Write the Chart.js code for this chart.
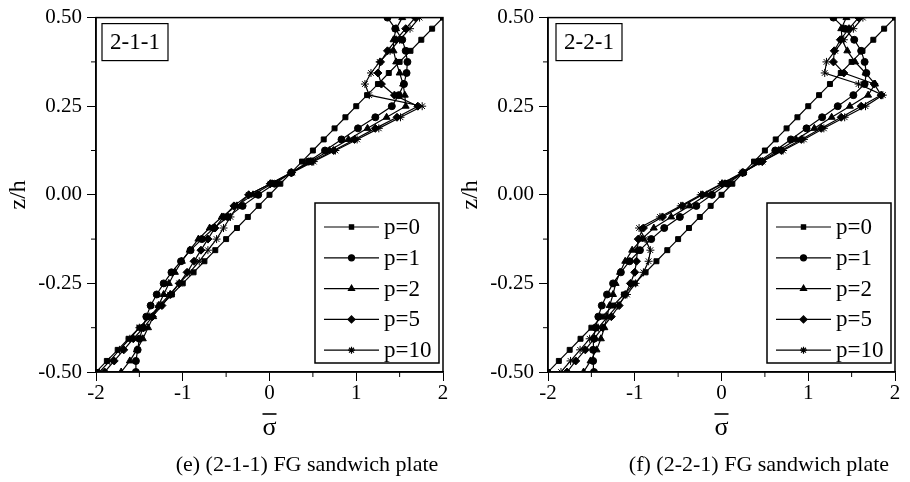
<!DOCTYPE html>
<html>
<head>
<meta charset="utf-8">
<script src="https://cdn.jsdelivr.net/npm/chart.js@4.4.0/dist/chart.umd.min.js"></script>
<style>
  body { margin: 0; background: #fff; }
  #wrap { position: relative; width: 910px; height: 482px; overflow: hidden; }
  canvas { position: absolute; top: 0; }
</style>
</head>
<body>
<div id="wrap">
  <canvas id="plate211" width="455" height="482" style="left:0"></canvas>
  <canvas id="plate221" width="455" height="482" style="left:455px"></canvas>
</div>
<script>
// z/h sample positions through the thickness
const zValues = [-0.5, -0.46875, -0.4375, -0.40625, -0.375, -0.34375, -0.3125, -0.28125, -0.25,
  -0.21875, -0.1875, -0.15625, -0.125, -0.09375, -0.0625, -0.03125, 0,
  0.03125, 0.0625, 0.09375, 0.125, 0.15625, 0.1875, 0.21875, 0.25,
  0.28125, 0.3125, 0.34375, 0.375, 0.40625, 0.4375, 0.46875, 0.5];

const seriesLabels = ['p=0', 'p=1', 'p=2', 'p=5', 'p=10'];
const xTicks = [-2, -1, 0, 1, 2];
const yTicks = [-0.5, -0.25, 0, 0.25, 0.5];
const xMinorTicks = [-1.5, -0.5, 0.5, 1.5];
const yMinorTicks = [-0.375, -0.125, 0.125, 0.375];

// sigma values, p=0 is the same in both plates
const sigmaP0 = [-2, -1.875, -1.75, -1.625, -1.5, -1.375, -1.25, -1.125, -1, -0.875, -0.75, -0.625, -0.5,
  -0.375, -0.25, -0.125, 0, 0.125, 0.25, 0.375, 0.5, 0.625, 0.75, 0.875, 1, 1.125, 1.25, 1.375, 1.5,
  1.625, 1.75, 1.875, 2];

// (2-1-1)
const plate211P1 = [-1.54, -1.54, -1.52, -1.50, -1.46, -1.42, -1.37, -1.30, -1.22, -1.13, -1.02, -0.91, -0.78,
  -0.64, -0.48, -0.31, -0.13, 0.06, 0.25, 0.45, 0.64, 0.83, 1.02, 1.22, 1.41, 1.49, 1.55, 1.58, 1.59, 1.57,
  1.53, 1.45, 1.36];
const plate211P2 = [-1.71, -1.61, -1.53, -1.46, -1.40, -1.34, -1.28, -1.22, -1.16, -1.09, -1.01, -0.92, -0.82,
  -0.69, -0.55, -0.38, -0.19, 0.03, 0.25, 0.47, 0.69, 0.91, 1.13, 1.35, 1.57, 1.56, 1.54, 1.50, 1.46, 1.43,
  1.43, 1.46, 1.53];
const plate211P5 = [-1.90, -1.79, -1.68, -1.57, -1.45, -1.35, -1.24, -1.14, -1.04, -0.95, -0.87, -0.79, -0.71,
  -0.63, -0.53, -0.41, -0.24, 0.01, 0.25, 0.49, 0.74, 0.98, 1.22, 1.47, 1.71, 1.44, 1.29, 1.25, 1.28, 1.36,
  1.46, 1.57, 1.68];
const plate211P10 = [-1.96, -1.84, -1.73, -1.61, -1.50, -1.38, -1.27, -1.15, -1.04, -0.92, -0.81, -0.71, -0.61,
  -0.53, -0.45, -0.37, -0.24, 0.01, 0.26, 0.51, 0.76, 1.01, 1.26, 1.51, 1.76, 1.15, 1.10, 1.17, 1.27, 1.39,
  1.50, 1.62, 1.73];

// (2-2-1)
const plate221P1 = [-1.47, -1.48, -1.48, -1.47, -1.45, -1.42, -1.38, -1.32, -1.25, -1.16, -1.06, -0.94, -0.81,
  -0.66, -0.48, -0.29, -0.11, 0.07, 0.25, 0.43, 0.62, 0.80, 0.98, 1.16, 1.34, 1.52, 1.65, 1.67, 1.65, 1.61,
  1.53, 1.42, 1.29];
const plate221P2 = [-1.59, -1.51, -1.44, -1.39, -1.35, -1.32, -1.29, -1.25, -1.22, -1.17, -1.11, -1.03, -0.92,
  -0.78, -0.58, -0.37, -0.17, 0.04, 0.25, 0.45, 0.66, 0.86, 1.07, 1.27, 1.48, 1.69, 1.77, 1.66, 1.54, 1.45,
  1.39, 1.38, 1.44];
const plate221P5 = [-1.78, -1.68, -1.57, -1.47, -1.37, -1.27, -1.18, -1.11, -1.05, -1.00, -0.98, -0.97, -0.96,
  -0.90, -0.68, -0.45, -0.22, 0.01, 0.24, 0.47, 0.69, 0.92, 1.15, 1.38, 1.61, 1.84, 1.76, 1.41, 1.29, 1.30,
  1.37, 1.47, 1.58];
const plate221P10 = [-1.85, -1.74, -1.63, -1.52, -1.42, -1.31, -1.20, -1.09, -0.99, -0.90, -0.84, -0.82, -0.88,
  -0.95, -0.71, -0.47, -0.24, 0.00, 0.24, 0.47, 0.71, 0.95, 1.18, 1.42, 1.66, 1.86, 1.58, 1.19, 1.21, 1.31,
  1.41, 1.52, 1.63];

const SERIF = '"Liberation Serif", "Times New Roman", serif';
const pointStyles = ['rect', 'circle', 'triangle', 'rectRot', 'star'];
const pointRadii = [3.5, 3.5, 4, 4, 4];

function buildDatasets(series) {
    return series.map((values, i) => ({
        label: seriesLabels[i],
        data: values.map((s, k) => ({ x: s, y: zValues[k] })),
        showLine: true,
        borderColor: '#000',
        backgroundColor: '#000',
        borderWidth: 1.2,
        pointStyle: pointStyles[i],
        pointRadius: pointRadii[i],
        pointBorderWidth: 1,
        pointBackgroundColor: '#000',
        pointBorderColor: '#000'
    }));
}

function drawMarker(ctx, style, r, x, y) {
    if (Chart.helpers && Chart.helpers.drawPoint) {
        Chart.helpers.drawPoint(ctx, { pointStyle: style, radius: r, borderWidth: 1, rotation: 0 }, x, y);
    } else {
        ctx.beginPath(); ctx.arc(x, y, r, 0, Math.PI * 2); ctx.fill();
    }
}

// frame, minor ticks, tag box, legend, overline and caption
const plateDecor = {
    id: 'plateDecor',
    afterDatasetsDraw(chart, args, opts) {
        const { ctx, chartArea: a, scales } = chart;
        ctx.save();
        ctx.strokeStyle = '#000';
        ctx.fillStyle = '#000';

        ctx.lineWidth = 1.5;
        ctx.strokeRect(a.left, a.top, a.right - a.left, a.bottom - a.top);

        ctx.lineWidth = 1;
        ctx.beginPath();
        yMinorTicks.forEach(v => {
            const y = scales.y.getPixelForValue(v);
            ctx.moveTo(a.left - 5, y); ctx.lineTo(a.left, y);
        });
        xMinorTicks.forEach(v => {
            const x = scales.x.getPixelForValue(v);
            ctx.moveTo(x, a.bottom); ctx.lineTo(x, a.bottom + 5);
        });
        ctx.stroke();

        // tag box
        const tx = a.left + opts.tagDx, ty = a.top + 6;
        ctx.lineWidth = 1.2;
        ctx.fillStyle = '#fff';
        ctx.fillRect(tx, ty, 66, 37);
        ctx.strokeRect(tx, ty, 66, 37);
        ctx.fillStyle = '#000';
        ctx.font = '23px ' + SERIF;
        ctx.textAlign = 'center';
        ctx.textBaseline = 'middle';
        ctx.fillText(opts.tag, tx + 33, ty + 19);

        // legend
        const bw = 124, bh = 160;
        const bx = a.right - 4 - bw, by = a.bottom - 9 - bh;
        ctx.fillStyle = '#fff';
        ctx.fillRect(bx, by, bw, bh);
        ctx.lineWidth = 1.5;
        ctx.strokeRect(bx, by, bw, bh);
        ctx.fillStyle = '#000';
        ctx.textAlign = 'left';
        ctx.font = '23px ' + SERIF;
        chart.data.datasets.forEach((ds, i) => {
            const y = by + 24 + i * 30.8;
            ctx.lineWidth = 1.2;
            ctx.beginPath();
            ctx.moveTo(bx + 9, y); ctx.lineTo(bx + 64, y);
            ctx.stroke();
            drawMarker(ctx, ds.pointStyle, ds.pointRadius - 0.5, bx + 36.5, y);
            ctx.fillText(ds.label, bx + 69, y + 1);
        });

        // bar over sigma
        const cx = (a.left + a.right) / 2;
        ctx.lineWidth = 1.6;
        ctx.beginPath();
        ctx.moveTo(cx - 7, a.bottom + 42); ctx.lineTo(cx + 7, a.bottom + 42);
        ctx.stroke();

        ctx.font = '22px ' + SERIF;
        ctx.textAlign = 'center';
        ctx.textBaseline = 'alphabetic';
        ctx.fillText(opts.caption, a.left + 211, a.bottom + 99);
        ctx.restore();
    }
};

function makeChart(id, series, o) {
    return new Chart(document.getElementById(id), {
        type: 'scatter',
        data: { datasets: buildDatasets(series) },
        options: {
            responsive: false,
            animation: false,
            events: [],
            layout: { padding: { left: 0, right: o.padRight, top: 16, bottom: 0 } },
            plugins: {
                legend: { display: false },
                tooltip: { enabled: false },
                plateDecor: { tag: o.tag, caption: o.caption, tagDx: o.tagDx }
            },
            scales: {
                x: {
                    type: 'linear', min: -2, max: 2,
                    afterFit: s => { s.height = 110; },
                    afterBuildTicks: s => { s.ticks = xTicks.map(v => ({ value: v })); },
                    ticks: { color: '#000', font: { family: SERIF, size: 21 }, padding: 0, maxRotation: 0,
                        callback: v => String(v) },
                    grid: { drawOnChartArea: false, tickLength: 9, color: '#000', lineWidth: 1 },
                    border: { color: '#000', width: 1.5 },
                    title: { display: true, text: 'σ', color: '#000', font: { family: SERIF, size: 26 },
                        padding: { top: 0, bottom: 38 } }
                },
                y: {
                    type: 'linear', min: -0.5, max: 0.5,
                    afterFit: s => { s.width = o.yWidth; },
                    afterBuildTicks: s => { s.ticks = yTicks.map(v => ({ value: v })); },
                    ticks: { color: '#000', font: { family: SERIF, size: 21 }, padding: 5,
                        callback: v => v.toFixed(2) },
                    grid: { drawOnChartArea: false, tickLength: 9, color: '#000', lineWidth: 1 },
                    border: { color: '#000', width: 1.5 },
                    title: { display: true, text: 'z/h', color: '#000', font: { family: SERIF, size: 24 },
                        padding: { top: o.titlePad, bottom: 0 } }
                }
            }
        },
        plugins: [plateDecor]
    });
}

makeChart('plate211', [sigmaP0, plate211P1, plate211P2, plate211P5, plate211P10],
    { padRight: 12, yWidth: 96, titlePad: 4, tag: '2-1-1', tagDx: 6,
      caption: '(e) (2-1-1) FG sandwich plate' });
makeChart('plate221', [sigmaP0, plate221P1, plate221P2, plate221P5, plate221P10],
    { padRight: 15, yWidth: 93, titlePad: 1, tag: '2-2-1', tagDx: 8,
      caption: '(f) (2-2-1) FG sandwich plate' });
</script>
</body>
</html>
